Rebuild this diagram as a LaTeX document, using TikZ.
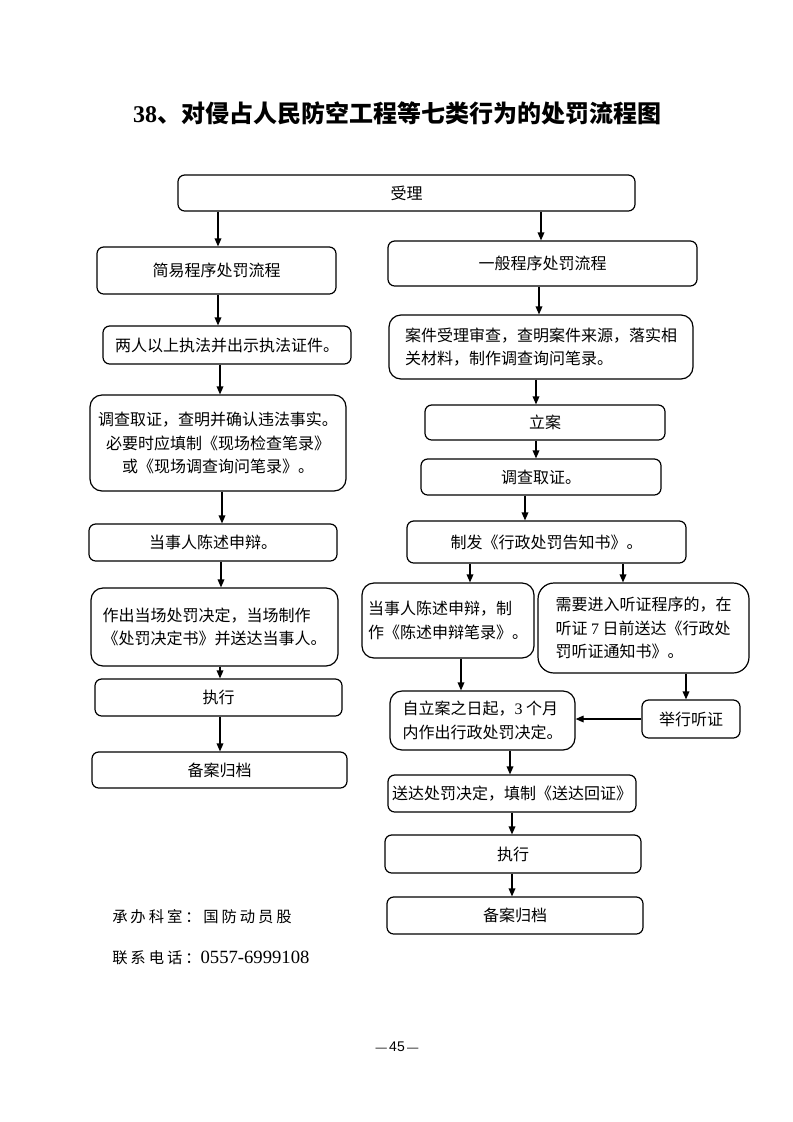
\documentclass[tikz,border=0pt]{standalone}
\usepackage{fontspec}
\usetikzlibrary{arrows.meta}
\newfontfamily\cjk{Noto Sans CJK SC}
\newfontfamily\cjkwide{Noto Sans CJK SC}[LetterSpace=19]
\newfontfamily\lserif{Liberation Serif}
\newfontfamily\lsans{Liberation Sans}
\newcommand\bx[7][]{\node[box,#1,minimum width={(#4-#2)*0.75pt},minimum height={(#5-#3)*0.75pt}] (#6) at ({(#2+#4)/2},{(#3+#5)/2}) {#7};}
\tikzset{
  box/.style={draw, line width=0.9pt, rounded corners=5pt, inner sep=1pt, align=center,
    font=\cjk\fontsize{12}{17.5}\selectfont},
  bigbox/.style={rounded corners=9pt},
  arr/.style={line width=0.9pt, -{Triangle[length=6pt,width=5pt]}},
}
\begin{document}
\begin{tikzpicture}[x=0.75pt,y=-0.75pt]
\useasboundingbox[fill=white] (0,0) rectangle (793,1122);

\node (title) at (397,113) {{\lserif\bfseries\fontsize{18}{20}\selectfont 38}{\cjk\bfseries\fontsize{18}{20}\selectfont 、对侵占人民防空工程等七类行为的处罚流程图}};

\bx{178}{175}{635}{211}{n1}{受理}
\bx{97}{247}{336}{294}{n2}{简易程序处罚流程}
\bx{388}{241}{697}{286}{n3}{一般程序处罚流程}
\bx{103}{326}{351}{364}{n4}{两人以上执法并出示执法证件。}
\bx[bigbox]{90}{395}{346}{491}{n5}{调查取证，查明并确认违法事实。\\必要时应填制《现场检查笔录》\\或《现场调查询问笔录》。}
\bx{89}{524}{337}{561}{n6}{当事人陈述申辩。}
\bx[bigbox,align=left]{91}{588}{338}{666}{n7}{作出当场处罚决定，当场制作\\《处罚决定书》并送达当事人。}
\bx{95}{679}{342}{716}{n8}{执行}
\bx{92}{752}{347}{788}{n9}{备案归档}

\bx[bigbox,align=left]{389}{315}{693}{379}{n10}{案件受理审查，查明案件来源，落实相\\关材料，制作调查询问笔录。}
\bx{425}{405}{665}{440}{n11}{立案}
\bx{421}{459}{661}{495}{n12}{调查取证。}
\bx{407}{521}{686}{563}{n13}{制发《行政处罚告知书》。}
\bx[bigbox,align=left]{362}{583}{534}{658}{n14}{当事人陈述申辩，制\\作《陈述申辩笔录》。}
\bx[bigbox,rounded corners=12pt,align=left]{538}{583}{749}{673}{n15}{需要进入听证程序的，在\\听证 {\lserif 7} 日前送达《行政处\\罚听证通知书》。}
\bx[bigbox,align=left]{390}{691}{575}{750}{n16}{自立案之日起，{\lserif 3} 个月\\内作出行政处罚决定。}
\bx{642}{700}{740}{738}{n17}{举行听证}
\bx{388}{775}{636}{812}{n18}{送达处罚决定，填制《送达回证》}
\bx{385}{835}{641}{873}{n19}{执行}
\bx{387}{897}{643}{934}{n20}{备案归档}

\draw[arr] (n1.south -| 218,0) -- (n2.north -| 218,0);
\draw[arr] (n1.south -| 541,0) -- (n3.north -| 541,0);
\draw[arr] (n2.south -| 218,0) -- (n4.north -| 218,0);
\draw[arr] (n4.south -| 220,0) -- (n5.north -| 220,0);
\draw[arr] (n5.south -| 222,0) -- (n6.north -| 222,0);
\draw[arr] (n6.south -| 221,0) -- (n7.north -| 221,0);
\draw[arr] (n7.south -| 220,0) -- (n8.north -| 220,0);
\draw[arr] (n8.south -| 220,0) -- (n9.north -| 220,0);

\draw[arr] (n3.south -| 539,0) -- (n10.north -| 539,0);
\draw[arr] (n10.south -| 536,0) -- (n11.north -| 536,0);
\draw[arr] (n11.south -| 536,0) -- (n12.north -| 536,0);
\draw[arr] (n12.south -| 525,0) -- (n13.north -| 525,0);
\draw[arr] (n13.south -| 470,0) -- (n14.north -| 470,0);
\draw[arr] (n13.south -| 623,0) -- (n15.north -| 623,0);
\draw[arr] (n14.south -| 461,0) -- (n16.north -| 461,0);
\draw[arr] (n15.south -| 686,0) -- (n17.north -| 686,0);
\draw[arr] (n17.west) -- (n17.west -| n16.east);
\draw[arr] (n16.south -| 510,0) -- (n18.north -| 510,0);
\draw[arr] (n18.south -| 512,0) -- (n19.north -| 512,0);
\draw[arr] (n19.south -| 512,0) -- (n20.north -| 512,0);

\node[anchor=west, inner sep=0pt] (office) at (112,917) {\cjkwide\fontsize{11.5}{14}\selectfont 承办科室：国防动员股};
\node[anchor=west, inner sep=0pt] (phone) at (112,958) {{\cjkwide\fontsize{11.5}{14}\selectfont 联系电话：}{\lserif\fontsize{14}{16}\selectfont 0557-6999108}};

\node (page) at (397,1047) {{\lsans\fontsize{8.5}{10}\selectfont —}\,{\lsans\fontsize{10.5}{12}\selectfont 45}\,{\lsans\fontsize{8.5}{10}\selectfont —}};
\end{tikzpicture}
\end{document}
